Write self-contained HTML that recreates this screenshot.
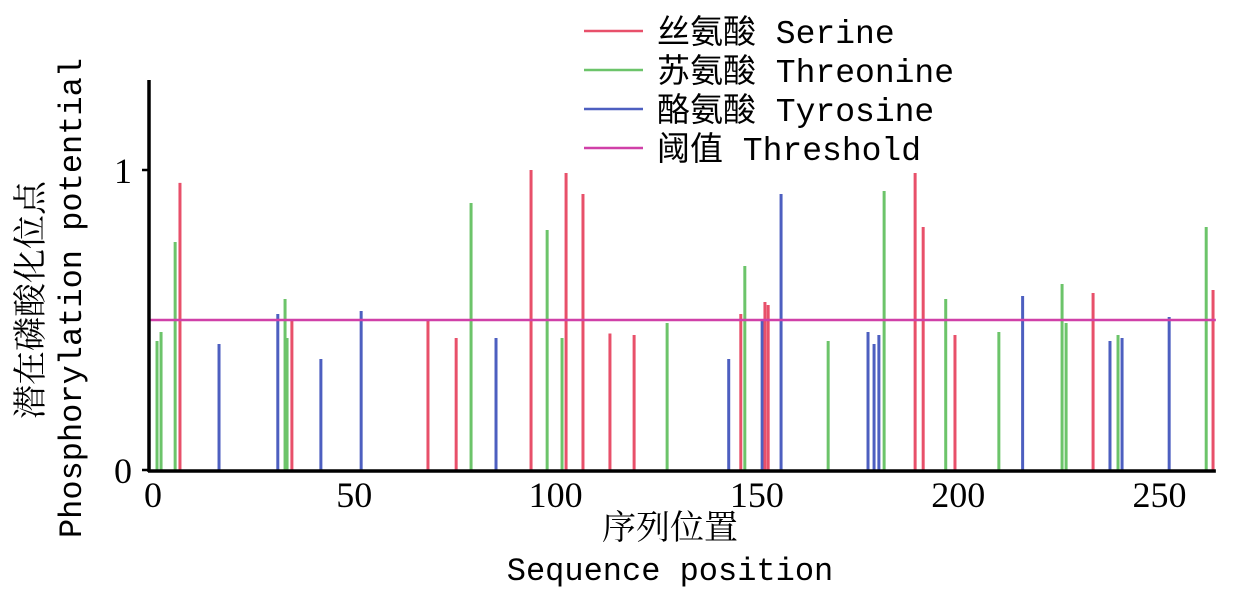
<!DOCTYPE html>
<html><head><meta charset="utf-8"><style>
body{margin:0;background:#fff;}
svg{display:block;}
.mono{font-family:"Liberation Mono","Noto Sans CJK SC",monospace;}
.cjk{font-family:"Liberation Serif","Noto Serif CJK SC",serif;}
</style></head><body>
<svg id="chart" width="1233" height="599" viewBox="0 0 1233 599" xmlns="http://www.w3.org/2000/svg">
<g id="marks"></g>
<g id="axes"></g>
<g>
 <g><line x1="584" y1="31" x2="643" y2="31" stroke="#e8506a" stroke-width="2.5"/><text x="657" y="43" font-size="33" class="mono">丝氨酸 Serine</text></g>
 <g><line x1="584" y1="70" x2="643" y2="70" stroke="#6cc46a" stroke-width="2.5"/><text x="657" y="82" font-size="33" class="mono">苏氨酸 Threonine</text></g>
 <g><line x1="584" y1="109" x2="643" y2="109" stroke="#4d5fc0" stroke-width="2.5"/><text x="657" y="121" font-size="33" class="mono">酪氨酸 Tyrosine</text></g>
 <g><line x1="584" y1="148" x2="643" y2="148" stroke="#d040a8" stroke-width="2.5"/><text x="657" y="160" font-size="33" class="mono">阈值 Threshold</text></g>
</g>
<text transform="translate(42,300) rotate(-90)" text-anchor="middle" font-size="34" class="cjk">潜在磷酸化位点</text>
<text transform="translate(81,298) rotate(-90)" text-anchor="middle" font-size="32" class="mono">Phosphorylation potential</text>
<text x="670" y="539" text-anchor="middle" font-size="34" class="cjk">序列位置</text>
<text x="670" y="580" text-anchor="middle" font-size="32" class="mono">Sequence position</text>
</svg>
<script>
const serineX=[6.7,34.5,68.3,75.3,93.9,102.6,106.8,113.5,119.5,146,152,152.8,189.3,191.3,199.2,233.5,263.3];
const serineY=[0.957,0.50,0.50,0.44,1.0,0.99,0.92,0.455,0.45,0.52,0.56,0.55,0.99,0.81,0.45,0.59,0.60];
const threonineX=[1.0,2.0,5.5,32.8,33.3,79,97.9,101.6,127.7,147,167.7,181.6,196.9,210.1,225.8,226.8,239.7,261.6];
const threonineY=[0.43,0.46,0.76,0.57,0.44,0.89,0.80,0.44,0.49,0.68,0.43,0.93,0.57,0.46,0.62,0.49,0.45,0.81];
const tyrosineX=[16.4,31,41.7,51.7,85.2,143,151.3,156,177.6,179.1,180.3,216,237.7,240.7,252.4];
const tyrosineY=[0.42,0.52,0.37,0.53,0.44,0.37,0.50,0.92,0.46,0.42,0.45,0.58,0.43,0.44,0.51];
const threshold=0.5;
const xTicks=[0,50,100,150,200,250];
const yTicks=[0,1];
const NS="http://www.w3.org/2000/svg";
const X0=153,XS=4.026,Y0=470,YS=300,XMAX=264;
function xs(v){return X0+v*XS;}
function ys(v){return Y0-v*YS;}
const marks=document.getElementById('marks');
const axes=document.getElementById('axes');
function mk(tag,attrs,parent){const e=document.createElementNS(NS,tag);for(const k in attrs)e.setAttribute(k,attrs[k]);parent.appendChild(e);return e;}
function series(xa,ya,color,name){
 xa.forEach((x,i)=>{
  const l=mk('line',{x1:xs(x),x2:xs(x),y1:Y0,y2:ys(ya[i]),stroke:color,'stroke-width':3},marks);
  
  
 });
}
series(threonineX,threonineY,'#6cc46a','threonine');
series(tyrosineX,tyrosineY,'#4d5fc0','tyrosine');
series(serineX,serineY,'#e8506a','serine');
const th=mk('line',{x1:149,x2:xs(XMAX),y1:ys(threshold),y2:ys(threshold),stroke:'#d040a8','stroke-width':2.5},marks);


const ya=mk('line',{x1:149,x2:149,y1:80,y2:Y0+2,stroke:'#000','stroke-width':3.5},axes);


const xa=mk('line',{x1:148,x2:xs(XMAX),y1:Y0+1,y2:Y0+1,stroke:'#000','stroke-width':3.5},axes);


xTicks.forEach(t=>{
 const e=mk('text',{x:xs(t),y:507,'text-anchor':'middle','font-size':36,'font-family':'Liberation Serif, serif'},axes);
 e.textContent=t;
 
 
});
yTicks.forEach(t=>{
 const tk=mk('line',{x1:142,x2:149,y1:ys(t),y2:ys(t),stroke:'#000','stroke-width':2.5},axes);
 
 
 const e=mk('text',{x:132,y:ys(t)+13,'text-anchor':'end','font-size':36,'font-family':'Liberation Serif, serif'},axes);
 e.textContent=t;
 
 
});
</script>
</body></html>
